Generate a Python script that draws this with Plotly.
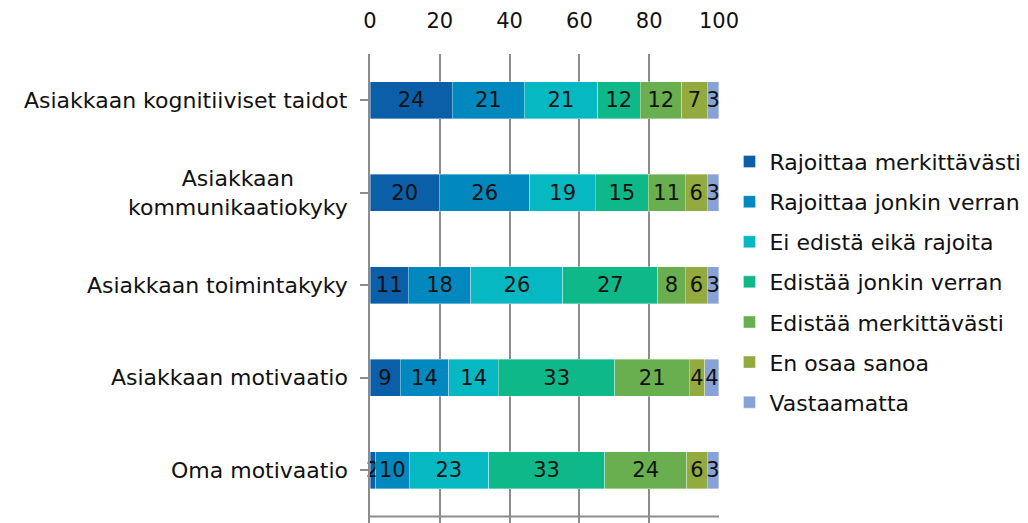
import plotly.graph_objects as go

# categories, top to bottom
categories = [
    "Asiakkaan kognitiiviset taidot",
    "Asiakkaan<br>kommunikaatiokyky",
    "Asiakkaan toimintakyky",
    "Asiakkaan motivaatio",
    "Oma motivaatio",
]

series_names = [
    "Rajoittaa merkittävästi",
    "Rajoittaa jonkin verran",
    "Ei edistä eikä rajoita",
    "Edistää jonkin verran",
    "Edistää merkittävästi",
    "En osaa sanoa",
    "Vastaamatta",
]

# percentages (segment widths, labels are rounded)
rajoittaa_merk = [23.6, 19.9, 11.0, 8.6, 1.6]
rajoittaa_jonk = [20.6, 25.9, 17.9, 14.0, 9.6]
ei_edista = [21.0, 18.8, 26.4, 14.2, 22.8]
edistaa_jonk = [12.2, 15.1, 27.1, 33.4, 33.2]
edistaa_merk = [11.9, 10.6, 8.0, 21.3, 23.6]
en_osaa = [7.4, 6.4, 6.3, 4.4, 5.8]
vastaamatta = [3.3, 3.3, 3.3, 4.1, 3.4]

x_ticks = [0, 20, 40, 60, 80, 100]

colors = ["#0B5EA8", "#0189BF", "#06B8C1", "#0FB888", "#69AF50", "#93AA3E", "#87A2D6"]

FONT = "DejaVu Sans"
GRID = "#8c8c8c"
TXT = "#111111"

series = [rajoittaa_merk, rajoittaa_jonk, ei_edista, edistaa_jonk,
          edistaa_merk, en_osaa, vastaamatta]
ypos = list(range(len(categories)))

fig = go.Figure()
for name, vals, col in zip(series_names, series, colors):
    fig.add_trace(go.Bar(
        y=ypos, x=vals, name=name, orientation="h", legendgroup=name,
        marker=dict(color=col, line=dict(color="rgba(255,255,255,0.6)", width=0.6)),
        width=0.4,
        texttemplate="%{x:.0f}", textposition="inside",
        insidetextanchor="middle", textangle=0,
        textfont=dict(family=FONT, size=21, color=TXT),
        cliponaxis=False,
    ))

# category labels (centred multi-line like the original)
for i, c in enumerate(categories):
    fig.add_annotation(x=0, xref="paper", y=i, yref="y", text=c,
                       xanchor="right", xshift=-20, showarrow=False, align="center",
                       font=dict(family=FONT, size=22, color=TXT))

# bottom boundary line
fig.add_shape(type="line", xref="x", yref="y", x0=0, x1=100, y0=4.5, y1=4.5,
              line=dict(color=GRID, width=2), layer="above")

# page body has an 8px default margin, so the figure is 8px smaller
fig.update_layout(
    width=1020, height=515,
    margin=dict(l=362, r=309, t=46, b=0, autoexpand=False),
    barmode="stack",
    plot_bgcolor="white", paper_bgcolor="white",
    font=dict(family=FONT, size=22, color=TXT),
    uniformtext=dict(minsize=21, mode="show"),
    showlegend=True,
    legend=dict(x=1.03, y=0.815, xanchor="left", yanchor="top",
                traceorder="grouped", font=dict(family=FONT, size=22, color=TXT),
                itemwidth=30, tracegroupgap=8.5),
    xaxis=dict(range=[0, 100.01], side="top", tickvals=x_ticks,
               showgrid=True, gridcolor=GRID, gridwidth=2,
               zeroline=False, showline=False,
               ticks="outside", ticklen=17, tickcolor="rgba(0,0,0,0)",
               tickfont=dict(family=FONT, size=21, color=TXT)),
    yaxis=dict(range=[4.57, -0.5], tickvals=ypos, showticklabels=False,
               tickson="boundaries", ticks="outside", ticklen=8, tickcolor=GRID,
               tickwidth=2, showline=True, linecolor=GRID, linewidth=2,
               showgrid=False, zeroline=False),
)

fig.write_html("out.html")
